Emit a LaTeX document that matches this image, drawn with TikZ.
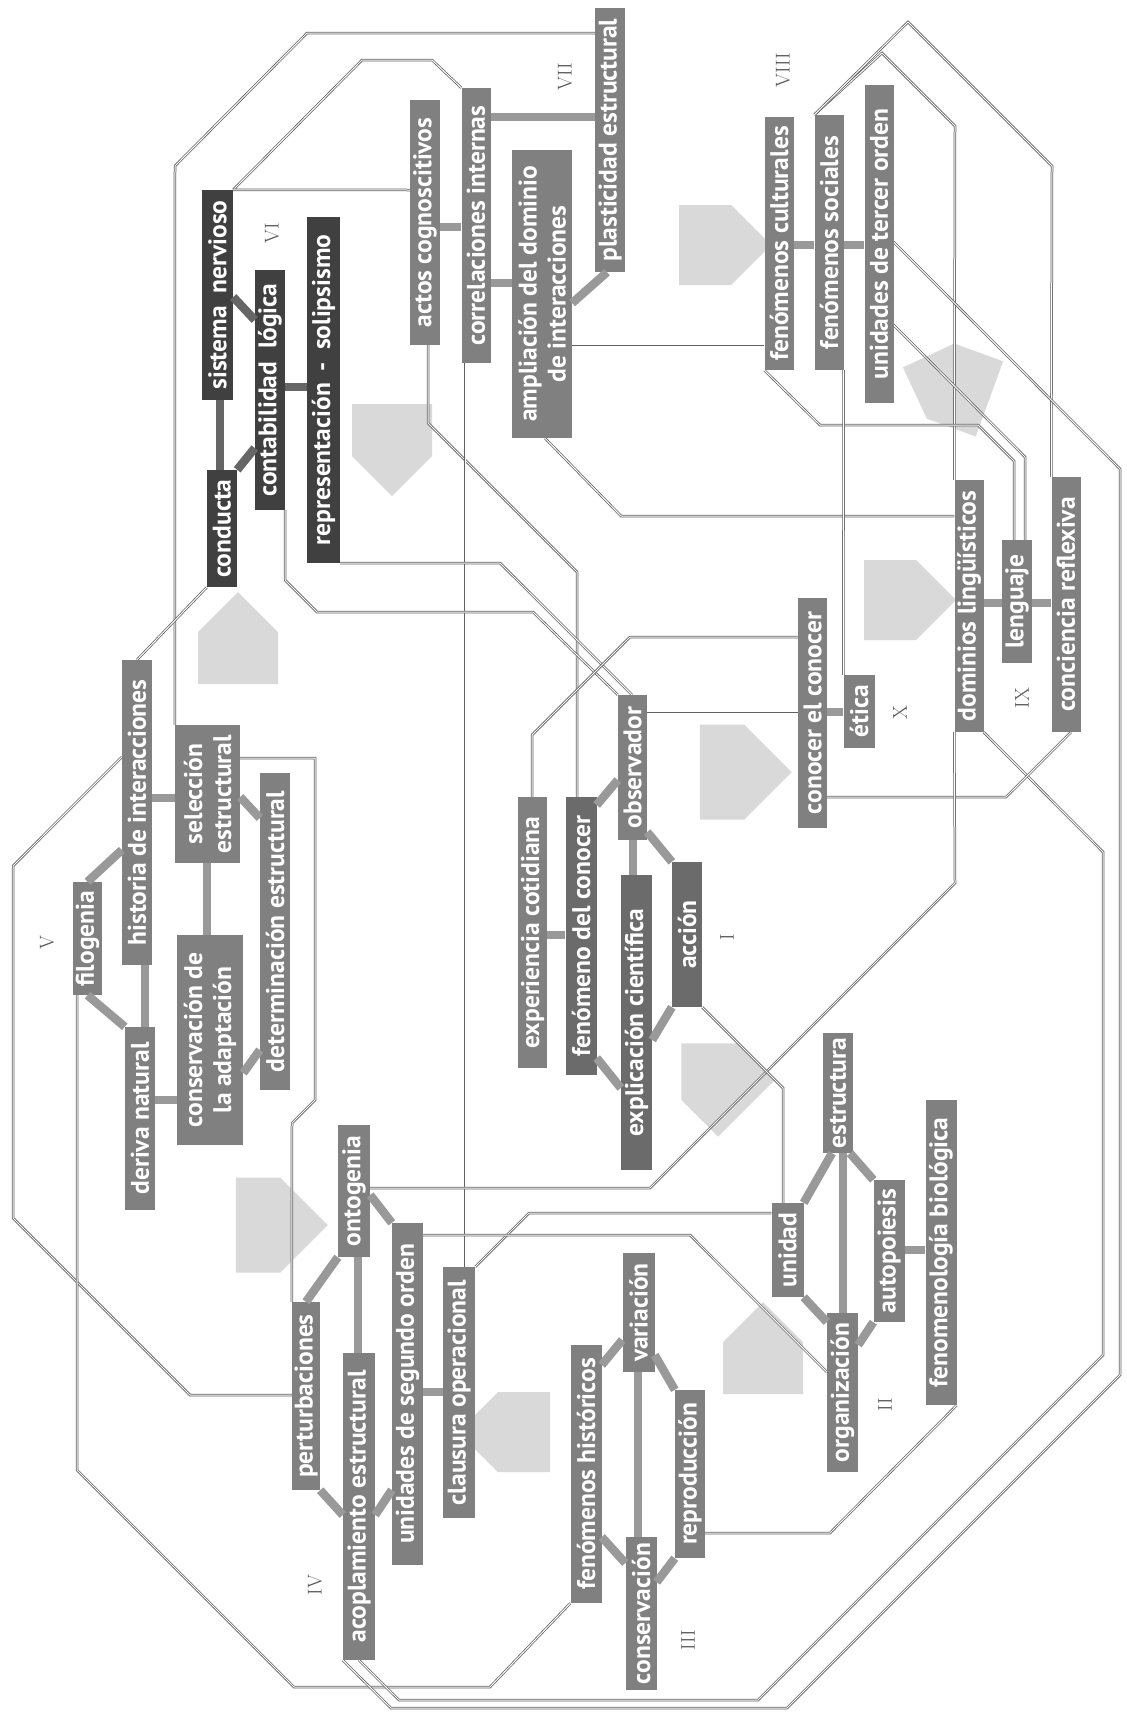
\documentclass[tikz,border=0pt]{standalone}
\usepackage{fontspec}
\newfontfamily\termfont{PT Sans}
\usepackage{tikz}
\usetikzlibrary{shapes.arrows,backgrounds}

\tikzset{
    term/.style={rectangle, fill=#1, rotate=90, text=white, inner sep=0pt,
                 font=\termfont\bfseries\fontsize{25.5}{29}\selectfont, align=center},
    term/.default=black!50,
    sz/.style n args={2}{minimum width=#1, minimum height=#2},
    bar/.style={line width=8.5pt, draw=#1},
    bar/.default=black!40,
    link/.style={draw=black!62, double=white, double distance=1pt, line width=0.75pt},
    bigarr/.style={single arrow, fill=black!15, minimum height=92, minimum width=80,
                   single arrow head extend=0pt, inner sep=0pt},
    num/.style={rotate=90, text=black!65, font=\fontsize{20}{20}\selectfont}
}

\begin{document}
\begin{tikzpicture}[x=1pt, y=-1pt]
\path[use as bounding box] (0,0) rectangle (1127,1716);

\node[term=black!75, sz={210}{31}] (sistnerv) at (217.5,295) {sistema\ \ nervioso};
\node[term=black!75, sz={240}{30}] (contab) at (270,390) {contabilidad\ \ lógica};
\node[term=black!75, sz={346}{33}] (repres) at (323.5,390) {representación\hspace{12pt}-\hspace{12pt}solipsismo};
\node[term=black!75, sz={117}{30}] (conducta) at (222,528.5) {conducta};

\node[term, sz={245}{30}] (actos) at (425,222.5) {actos cognoscitivos};
\node[term, sz={275}{29}] (correl) at (476,225.5) {correlaciones internas};
\node[term, sz={288}{60}] (ampl) at (542,294) {ampliación del dominio\\de interacciones};
\node[term, sz={264}{30}] (plast) at (610,140) {plasticidad estructural};

\node[term, sz={253}{29}] (cultur) at (779,243.5) {fenómenos culturales};
\node[term, sz={255}{29}] (social) at (829,242.5) {fenómenos sociales};
\node[term, sz={318}{29}] (tercer) at (879,244) {unidades de tercer orden};

\node[term, sz={252}{29}] (dominios) at (969,606) {dominios lingüísticos};
\node[term, sz={123}{30}] (lenguaje) at (1017,601.5) {lenguaje};
\node[term, sz={255}{29}] (concien) at (1066,604.5) {conciencia reflexiva};

\node[term, sz={230}{29}] (conocer) at (812.5,713) {conocer el conocer};
\node[term, sz={73}{31}] (etica) at (859,711.5) {ética};

\node[term, sz={271}{29}] (exper) at (532.5,932.5) {experiencia cotidiana};
\node[term=black!58, sz={278}{31}] (fenom) at (581,936) {fenómeno del conocer};
\node[term, sz={145}{29}] (observ) at (632.5,767.5) {observador};
\node[term=black!58, sz={295}{31}] (explic) at (636.5,1022.5) {explicación científica};
\node[term=black!58, sz={145}{30}] (accion) at (687,934.5) {acción};

\node[term, sz={120}{30}] (estruc) at (838,1093) {estructura};
\node[term, sz={94}{32}] (unidad) at (787.5,1250) {unidad};
\node[term, sz={142}{31}] (autop) at (889,1251) {autopoiesis};
\node[term, sz={305}{31}] (fenbio) at (941,1252.5) {fenomenología biológica};
\node[term, sz={159}{31}] (organiz) at (842.5,1392.5) {organización};

\node[term, sz={258}{31}] (fenhist) at (586,1474) {fenómenos históricos};
\node[term, sz={119}{32}] (variac) at (638.5,1312.5) {variación};
\node[term, sz={153}{31}] (conserv) at (641,1613.5) {conservación};
\node[term, sz={168}{30}] (reprod) at (690,1474) {reproducción};

\node[term, sz={188}{28}] (perturb) at (306,1396) {perturbaciones};
\node[term, sz={132}{32}] (ontog) at (354,1191) {ontogenia};
\node[term, sz={307}{32}] (acopl) at (359,1506.5) {acoplamiento estructural};
\node[term, sz={342}{31}] (unidseg) at (407.5,1394) {unidades de segundo orden};
\node[term, sz={251}{32}] (clausura) at (459,1392.5) {clausura operacional};

\node[term, sz={113}{29}] (filog) at (87.5,938.5) {filogenia};
\node[term, sz={305}{30}] (histor) at (137,812.5) {historia de interacciones};
\node[term, sz={183}{30}] (deriva) at (140,1118.5) {deriva natural};
\node[term, sz={210}{66}] (conadap) at (210,1040) {conservación de\\la adaptación};
\node[term, sz={138}{65}] (selecc) at (207.5,794) {selección\\estructural};
\node[term, sz={317}{30}] (determ) at (275,931.5) {determinación estructural};

\node[num] (numI) at (727,937) {I};
\node[num] (numII) at (885,1405) {II};
\node[num] (numIII) at (688,1640) {III};
\node[num] (numIV) at (315,1585) {IV};
\node[num] (numV) at (47,943) {V};
\node[num] (numVI) at (272,233) {VI};
\node[num] (numVII) at (565,77) {VII};
\node[num] (numVIII) at (783,70) {VIII};
\node[num] (numIX) at (1022,698) {IX};
\node[num] (numX) at (900,713) {X};

\begin{scope}[on background layer]
\fill[white] (0,0) rectangle (1127,1716);
\node[bigarr, rotate=135] (arrone) at (728,1090) {};
\node[bigarr, rotate=90] (arrtwo) at (763,1368) {};
\node[bigarr, rotate=180] (arrthree) at (524,1432) {};
\node[bigarr, rotate=0, minimum width=95] (arrfour) at (258,1225) {};
\node[bigarr, rotate=90] (arrfive) at (238,658) {};
\node[bigarr, rotate=270] (arrsix) at (392,430) {};
\node[bigarr, rotate=0] (arrseven) at (705,245) {};
\node[bigarr, rotate=160] (arreight) at (965,390) {};
\node[bigarr, rotate=0] (arrnine) at (890,600) {};
\node[bigarr, rotate=0, minimum width=95] (arrten) at (722,772) {};

\draw[link] (selecc.north east) -- (175,166) -- (307,33) -- (plast.north |- 0,33);
\draw[link] (sistnerv.south east) -- (362,60) -- (432,60) -- (correl.north east);
\draw[link] (sistnerv.south east) -- (actos.north |- 0,190);
\draw[link] (actos.west -| 428,0) -- (428,423) -- (577,572) -- (fenom.east -| 577,0);
\draw[link] (correl.west -| 465,0) -- (clausura.east -| 465,0);
\draw[link] (ampl.west -| 545,0) -- (621,516) -- (dominios.north |- 0,516);
\draw[link] (ampl.south |- 0,346) -- (cultur.north |- 0,346);
\draw[link] (repres.south west) -- (500,563) -- (observ.east -| 632,0);
\draw[link] (contab.south west) -- (285,580) -- (317,612) -- (533,612) -- (observ.north east);
\draw[link] (conducta.north west) -- (histor.east);
\draw[link] (selecc.south |- 0,758) -- (315,758) -- (315,1100) -- (292,1123) -- (perturb.north east);
\draw[link] (histor.north |- 0,757) -- (13,866) -- (13,1218) -- (190,1395) -- (perturb.north |- 0,1395);
\draw[link] (filog.west -| 77,0) -- (77,1470) -- (294,1687) -- (490,1687) -- (fenhist.north west);
\draw[link] (social.north east) -- (882,53) -- (955,126) -- (dominios.north east);
\draw[link] (social.north east) -- (908,22) -- (1052,166) -- (concien.north east);
\draw[link] (cultur.north west) -- (820,425) -- (978,425) -- (1014,461) -- (lenguaje.east -| 1014,0);
\draw[link] (tercer.south |- 0,325) -- (1025,457) -- (lenguaje.east -| 1025,0);
\draw[link] (tercer.south |- 0,242) -- (1120,469) -- (1120,1375) -- (787,1708) -- (391,1708) -- (acopl.north west);
\draw[link] (dominios.south west) -- (1103,852) -- (1103,1355) -- (758,1700) -- (399,1700) -- (acopl.west);
\draw[link] (concien.west -| 1071,0) -- (1006,797) -- (conocer.south |- 0,797);
\draw[link] (social.south west) -- (etica.north east);
\draw[link] (exper.east -| 532,0) -- (532,735) -- (630,637) -- (conocer.north |- 0,637);
\draw[link] (observ.south |- 0,713) -- (conocer.north |- 0,713);
\draw[link] (dominios.north west) -- (955,883) -- (650,1188) -- (ontog.south |- 0,1188);
\draw[link] (accion.south west) -- (783,1088) -- (unidad.east -| 783,0);
\draw[link] (clausura.south east) -- (529,1213) -- (unidad.north |- 0,1213);
\draw[link] (unidseg.south |- 0,1235) -- (690,1235) -- (organiz.north |- 0,1372);
\draw[link] (reprod.south |- 0,1533) -- (830,1533) -- (fenbio.south west);
\end{scope}

\draw[bar=black!60] (sistnerv.west -| 220,0) -- (conducta.east -| 220,0);
\draw[bar=black!60] (conducta.south east) -- (contab.north |- 0,448);
\draw[bar=black!60] (sistnerv.south |- 0,297) -- (contab.north |- 0,320);
\draw[bar=black!60] (contab.south |- 0,387) -- (repres.north |- 0,387);

\draw[bar] (actos.south |- 0,227) -- (correl.north |- 0,227);
\draw[bar] (correl.south |- 0,117) -- (plast.north |- 0,117);
\draw[bar] (correl.south |- 0,283) -- (ampl.north |- 0,283);
\draw[bar] (plast.west -| 607,0) -- (ampl.south |- 0,303);

\draw[bar] (cultur.south |- 0,245) -- (social.north |- 0,245);
\draw[bar] (social.south |- 0,245) -- (tercer.north |- 0,245);

\draw[bar] (dominios.south |- 0,603) -- (lenguaje.north |- 0,603);
\draw[bar] (lenguaje.south |- 0,603) -- (concien.north |- 0,603);

\draw[bar] (conocer.south |- 0,712) -- (etica.north |- 0,712);

\draw[bar] (exper.south |- 0,935) -- (fenom.north |- 0,935);
\draw[bar] (fenom.south |- 0,805) -- (observ.north |- 0,780);
\draw[bar] (observ.west -| 633,0) -- (explic.east -| 633,0);
\draw[bar] (observ.south |- 0,832) -- (accion.north east);
\draw[bar] (fenom.south |- 0,1058) -- (explic.north |- 0,1088);
\draw[bar] (explic.south |- 0,1040) -- (accion.north west);

\draw[bar] (estruc.west -| 832,0) -- (unidad.south east);
\draw[bar] (estruc.west -| 843,0) -- (organiz.east -| 843,0);
\draw[bar] (estruc.west -| 850,0) -- (autop.north east);
\draw[bar] (autop.south |- 0,1250) -- (fenbio.north |- 0,1250);
\draw[bar] (unidad.south west) -- (organiz.north |- 0,1322);
\draw[bar] (autop.north west) -- (organiz.south |- 0,1345);

\draw[bar] (fenhist.south |- 0,1365) -- (variac.north |- 0,1340);
\draw[bar] (fenhist.south |- 0,1537) -- (conserv.north |- 0,1563);
\draw[bar] (variac.west -| 638,0) -- (conserv.east -| 638,0);
\draw[bar] (variac.south |- 0,1355) -- (reprod.north east);
\draw[bar] (reprod.north west) -- (conserv.south |- 0,1582);

\draw[bar] (ontog.north west) -- (perturb.east);
\draw[bar] (ontog.west -| 358,0) -- (acopl.east -| 358,0);
\draw[bar] (perturb.south west) -- (acopl.north |- 0,1515);
\draw[bar] (acopl.south |- 0,1515) -- (unidseg.north |- 0,1490);
\draw[bar] (ontog.south |- 0,1195) -- (unidseg.north east);
\draw[bar] (unidseg.south |- 0,1392) -- (clausura.north |- 0,1392);

\draw[bar] (filog.east) -- (histor.north |- 0,850);
\draw[bar] (filog.west) -- (deriva.north east);
\draw[bar] (histor.west -| 145,0) -- (deriva.east -| 145,0);
\draw[bar] (deriva.south |- 0,1100) -- (conadap.north |- 0,1100);
\draw[bar] (histor.south |- 0,798) -- (selecc.north |- 0,798);
\draw[bar] (selecc.west -| 207,0) -- (conadap.east -| 207,0);
\draw[bar] (selecc.south |- 0,797) -- (determ.north |- 0,818);
\draw[bar] (conadap.south |- 0,1073) -- (determ.north |- 0,1050);
\end{tikzpicture}
\end{document}
